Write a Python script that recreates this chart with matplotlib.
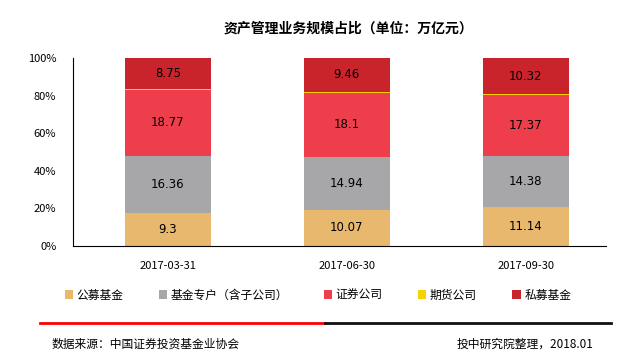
import matplotlib.pyplot as plt
import numpy as np

plt.rcParams['font.family'] = ['Noto Sans CJK SC', 'DejaVu Sans']

dates = ["2017-03-31", "2017-06-30", "2017-09-30"]
names = ["公募基金", "基金专户（含子公司）", "证券公司", "期货公司", "私募基金"]
gongmu = [9.3, 10.07, 11.14]
zhuanhu = [16.36, 14.94, 14.38]
zhengquan = [18.77, 18.1, 17.37]
qihuo = [0.24, 0.25, 0.25]   # not labelled, thin sliver
simu = [8.75, 9.46, 10.32]
colors = ["#E8B86F", "#A7A7A9", "#EF3E4B", "#F7D100", "#C9232B"]
show_label = [True, True, True, False, True]

data = np.array([gongmu, zhuanhu, zhengquan, qihuo, simu])
pct = data / data.sum(axis=0) * 100

fig = plt.figure(figsize=(6.4, 3.6), dpi=100)
ax = fig.add_axes([0.114, 0.317, 0.833, 0.522])
x = np.arange(len(dates))
bottom = np.zeros(len(dates))
for i in range(len(names)):
    ax.bar(x, pct[i], 0.48, bottom=bottom, color=colors[i], label=names[i])
    if show_label[i]:
        for j in range(len(dates)):
            ax.text(x[j], bottom[j] + pct[i][j] / 2, format(data[i][j], "g"),
                    ha="center", va="center", fontsize=8.5, family="DejaVu Sans")
    bottom += pct[i]

ax.set_ylim(0, 100)
ax.set_xlim(-0.53, 2.45)
ax.set_yticks(np.arange(0, 101, 20))
ax.set_yticklabels([f"{v}%" for v in range(0, 101, 20)], fontsize=8)
ax.set_xticks(x)
ax.set_xticklabels(dates, fontsize=8)
ax.tick_params(axis="x", length=0, pad=11)
ax.tick_params(axis="y", length=0, pad=12)
for s in ["top", "right"]:
    ax.spines[s].set_visible(False)

fig.text(0.545, 0.92, "资产管理业务规模占比（单位：万亿元）", ha="center", va="center",
         fontsize=10, fontweight="bold")
fig.legend(loc="center", bbox_to_anchor=(0.497, 0.18), ncol=5, frameon=False,
           fontsize=8.5, handlelength=0.7, handleheight=0.7, handletextpad=0.3,
           columnspacing=3.0)

fig.add_artist(plt.Line2D([0.062, 0.508], [0.104, 0.104], color="#FF0000", lw=2))
fig.add_artist(plt.Line2D([0.508, 0.955], [0.104, 0.104], color="#111111", lw=2))
fig.text(0.081, 0.045, "数据来源：中国证券投资基金业协会", fontsize=8.5, va="center")
fig.text(0.928, 0.045, "投中研究院整理，2018.01", fontsize=8.5, va="center", ha="right")

fig.savefig("out.png", dpi=100)
